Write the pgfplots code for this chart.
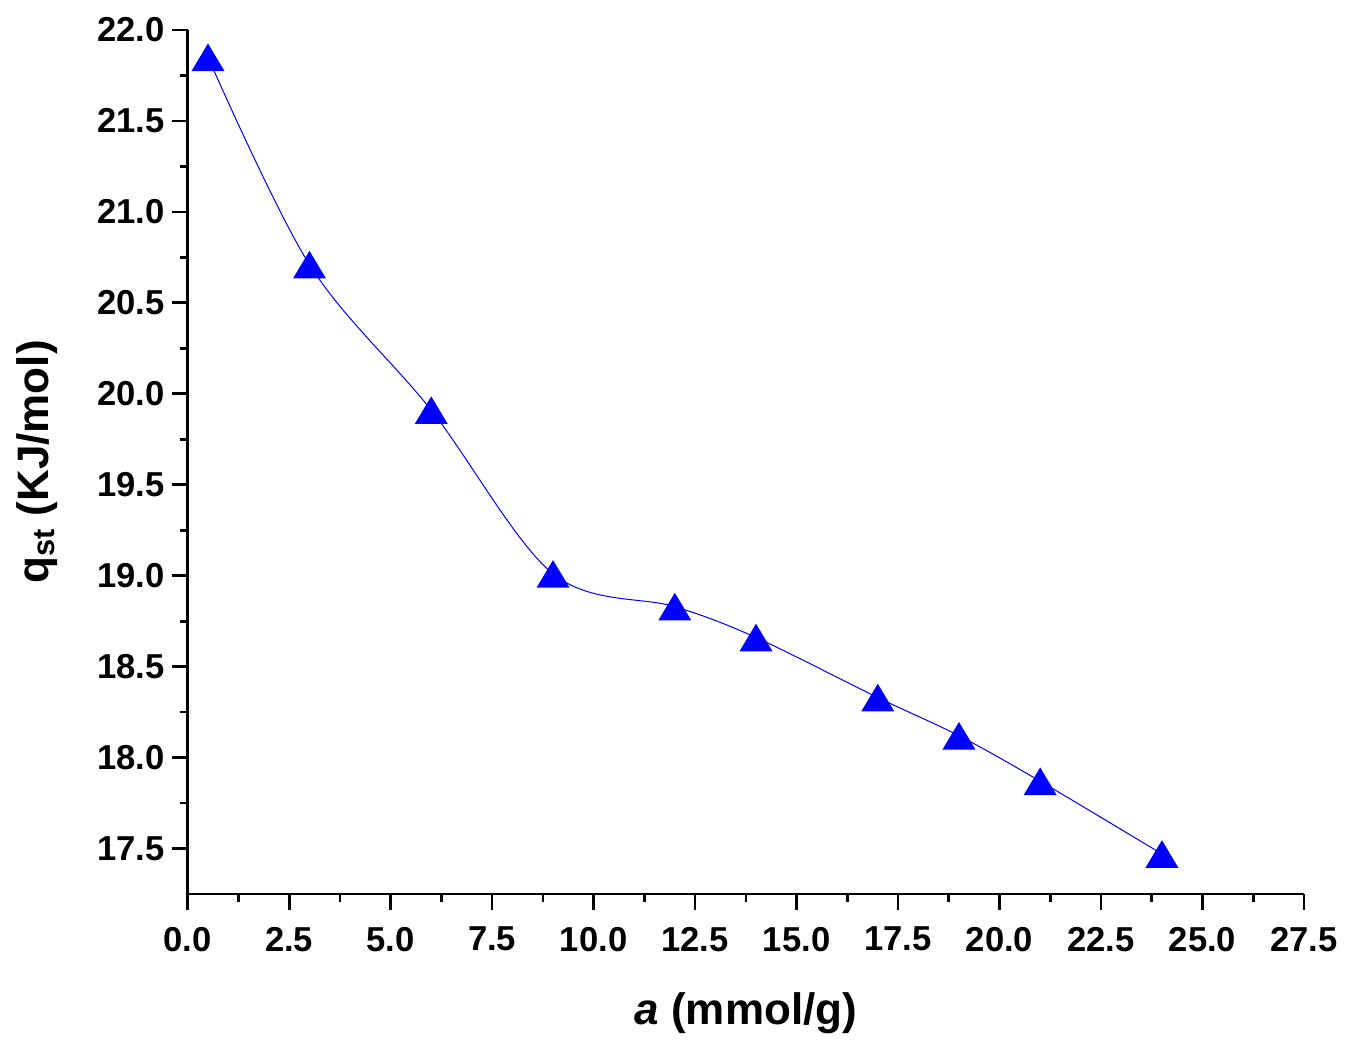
\documentclass[border=0pt]{standalone}
\usepackage{fontspec}
\setmainfont{Liberation Sans}
\usepackage{pgfplots}
\pgfplotsset{compat=1.18}
\pgfdeclareplotmark{otri}{%
  \pgfpathmoveto{\pgfqpoint{0pt}{6.9pt}}%
  \pgfpathlineto{\pgfqpoint{-8.25pt}{-6.9pt}}%
  \pgfpathlineto{\pgfqpoint{8.25pt}{-6.9pt}}%
  \pgfpathclose\pgfusepathqfill}
\definecolor{oblue}{RGB}{0,0,255}
\begin{document}
\begin{tikzpicture}
\begin{axis}[name=ax, scale only axis, width=558.15pt, height=432pt,
  xmin=0, xmax=27.5, ymin=17.25, ymax=22,
  axis lines=left, axis line style={-, line width=1.35pt},
  xtick={0,2.5,...,27.5}, ytick={17.5,18,...,22},
  minor x tick num=1, minor y tick num=1,
  tick align=outside, major tick length=8pt, minor tick length=4pt,
  every tick/.style={line width=1.35pt, black},
  tick label style={font=\fontsize{17.3}{20}\selectfont\bfseries},
  xticklabel style={yshift=-5pt},
  /pgf/number format/assume math mode=true,
  /pgf/number format/fixed, /pgf/number format/fixed zerofill, /pgf/number format/precision=1,
  xlabel={\textit{a} (mmol/g)},
  ylabel={q\textsubscript{st} (KJ/mol)},
  label style={font=\fontsize{22}{26}\selectfont\bfseries},
  xlabel style={at={(axis description cs:0.5,-0.138)}, anchor=center},
  ylabel style={at={(axis description cs:-0.135,0.5)}, anchor=center, rotate=0},
  clip=false,
]
\addplot[oblue, line width=0.5pt, smooth, tension=0.55, mark=otri, mark options={fill=oblue}] coordinates {
(0.5,21.85) (3,20.71) (6,19.91) (9,19.01) (12,18.83) (14,18.66) (17,18.33) (19,18.12) (21,17.87) (24,17.47)
};
\end{axis}
\pgfresetboundingbox
\path ([shift={(-93.85pt,-77pt)}]ax.south west) rectangle ([shift={(24.5pt,15pt)}]ax.north east);
\end{tikzpicture}
\end{document}
